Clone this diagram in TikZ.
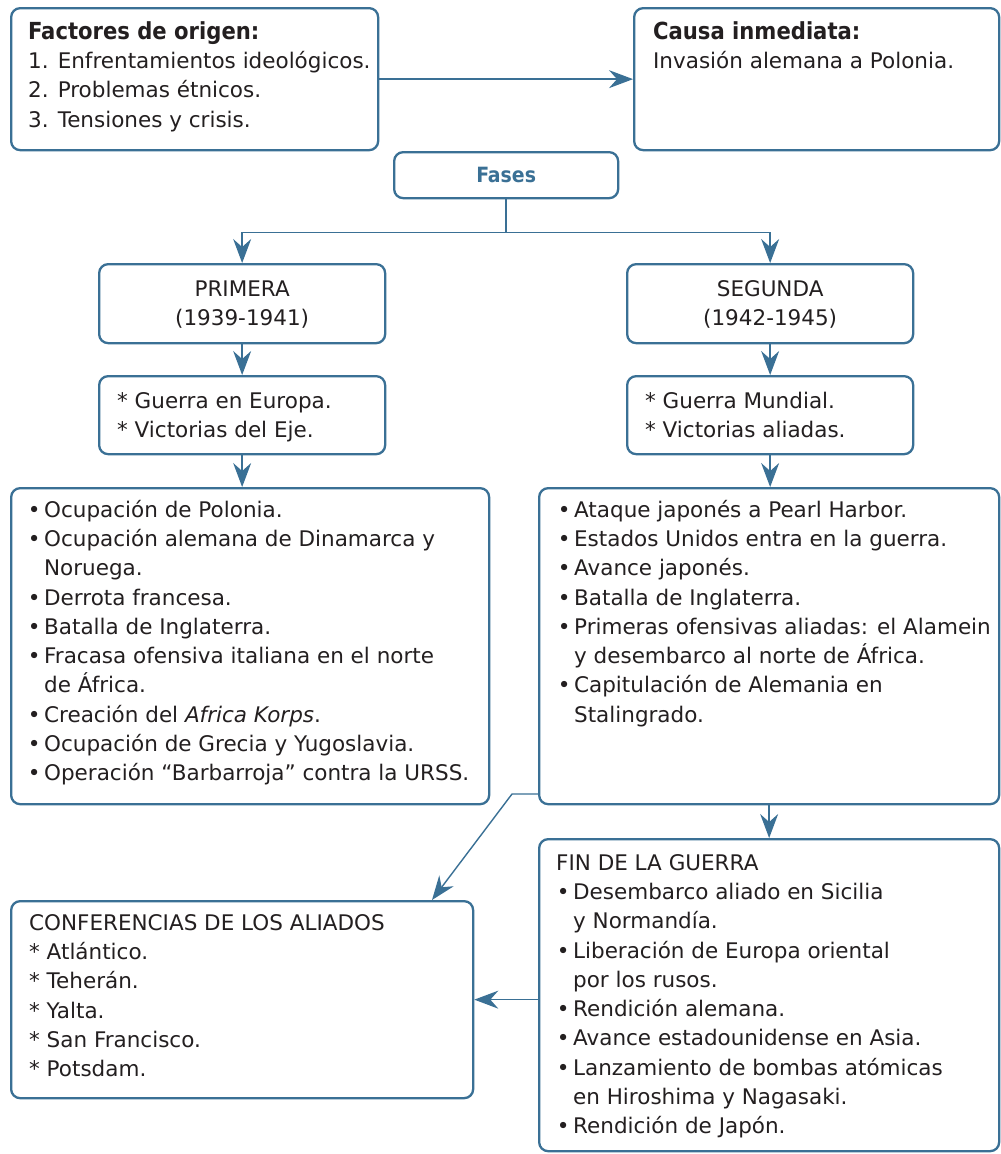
\documentclass[tikz,border=0pt]{standalone}
\usepackage{fontspec}
\setmainfont{DejaVu Sans}
\newfontfamily\headfont{DejaVu Sans Condensed}
\usetikzlibrary{arrows.meta}
\definecolor{bblue}{HTML}{3A7095}
\definecolor{txt}{HTML}{231F20}
\newcommand\fs{\fontsize{21.5}{29.3}\selectfont}
\newcommand\hd[1]{{\headfont\bfseries\fontsize{23.5}{29.3}\selectfont #1}}
\newcommand\bul{\makebox[20pt][c]{•}}
\newcommand\ind{\hspace*{20pt}}
\newcommand\myast{{*}\ }
\newcommand\bcont[5]{\begin{minipage}[t][#2][t]{#1}\raggedright\leftskip=#3\relax\rule{0pt}{#4}#5\end{minipage}}
\newcommand\ccont[4]{\begin{minipage}[t][#2][t]{#1}\centering\rule{0pt}{#3}#4\end{minipage}}
\tikzset{
  box/.style={draw=bblue, line width=2.3pt, rounded corners=9pt, inner sep=0pt, anchor=north west, text=txt, font=\fs, fill=white},
  conn/.style={draw=bblue, line width=1.4pt, -{Stealth[length=24pt,width=18pt,inset=8pt]}},
  plain/.style={draw=bblue, line width=1.4pt}
}
\begin{document}
\begin{tikzpicture}[x=1pt,y=-1pt]
\useasboundingbox (0,0) rectangle (1001,1154);
\fill[white] (0,0) rectangle (1001,1154);

\node[box] (fac) at (10,7) {\bcont{367pt}{142pt}{17pt}{31pt}{\hd{Factores de origen:}\\1. Enfrentamientos ideológicos.\\2. Problemas étnicos.\\3. Tensiones y crisis.}};
\node[box] (cau) at (633,7) {\bcont{365pt}{142pt}{19pt}{31pt}{\hd{Causa inmediata:}\\Invasión alemana a Polonia.}};
\node[box, minimum width=224pt, minimum height=46pt, text=bblue] (fas) at (393,151) {{\headfont\bfseries\fontsize{21}{25}\selectfont Fases}};

\node[box] (pri) at (98,263) {\ccont{286pt}{79pt}{32pt}{PRIMERA\\(1939-1941)}};
\node[box] (seg) at (626,263) {\ccont{286pt}{79pt}{32pt}{SEGUNDA\\(1942-1945)}};
\node[box] (pri2) at (98,375) {\bcont{286pt}{78pt}{18pt}{32pt}{\myast Guerra en Europa.\\\myast Victorias del Eje.}};
\node[box] (seg2) at (626,375) {\bcont{286pt}{78pt}{18pt}{32pt}{\myast Guerra Mundial.\\\myast Victorias aliadas.}};

\node[box] (izq) at (10,487) {\bcont{478pt}{316pt}{13pt}{29pt}{%
\bul Ocupación de Polonia.\\
\bul Ocupación alemana de Dinamarca y\\
\ind Noruega.\\
\bul Derrota francesa.\\
\bul Batalla de Inglaterra.\\
\bul Fracasa ofensiva italiana en el norte\\
\ind de África.\\
\bul Creación del \textit{Africa Korps}.\\
\bul Ocupación de Grecia y Yugoslavia.\\
\bul Operación “Barbarroja” contra la URSS.}};

\node[box] (der) at (538,487) {\bcont{460pt}{316pt}{15pt}{29pt}{%
\bul Ataque japonés a Pearl Harbor.\\
\bul Estados Unidos entra en la guerra.\\
\bul Avance japonés.\\
\bul Batalla de Inglaterra.\\
\bul Primeras ofensivas aliadas: el Alamein\\
\ind y desembarco al norte de África.\\
\bul Capitulación de Alemania en\\
\ind Stalingrado.}};

\node[box] (fin) at (538,838) {\bcont{460pt}{312pt}{14pt}{31pt}{%
\hspace*{3pt}FIN DE LA GUERRA\\
\bul Desembarco aliado en Sicilia\\
\ind y Normandía.\\
\bul Liberación de Europa oriental\\
\ind por los rusos.\\
\bul Rendición alemana.\\
\bul Avance estadounidense en Asia.\\
\bul Lanzamiento de bombas atómicas\\
\ind en Hiroshima y Nagasaki.\\
\bul Rendición de Japón.}};

\node[box] (con) at (10,900) {\bcont{462pt}{197pt}{18pt}{29pt}{%
CONFERENCIAS DE LOS ALIADOS\\
\myast Atlántico.\\
\myast Teherán.\\
\myast Yalta.\\
\myast San Francisco.\\
\myast Potsdam.}};

% connectors
\draw[conn] (fac.east) -- (cau.west);
\draw[plain] (fas.south) -- ++(0,33) coordinate (j);
\draw[conn] (j) -| (pri.north);
\draw[conn] (j) -| (seg.north);
\draw[conn] (pri.south) -- (pri2.north);
\draw[conn] (seg.south) -- (seg2.north);
\draw[conn] (pri2.south) -- (pri2.south |- izq.north);
\draw[conn] (seg2.south) -- (seg2.south |- der.north);
\draw[conn] (der.south) -- (fin.north);
\coordinate (d1) at (512,794);
\coordinate (d2) at (432,900);
\draw[conn] (der.west |- d1) -- (d1) -- (d2 |- con.north);
\draw[conn] (fin.west |- con.east) -- (con.east);
\end{tikzpicture}
\end{document}
